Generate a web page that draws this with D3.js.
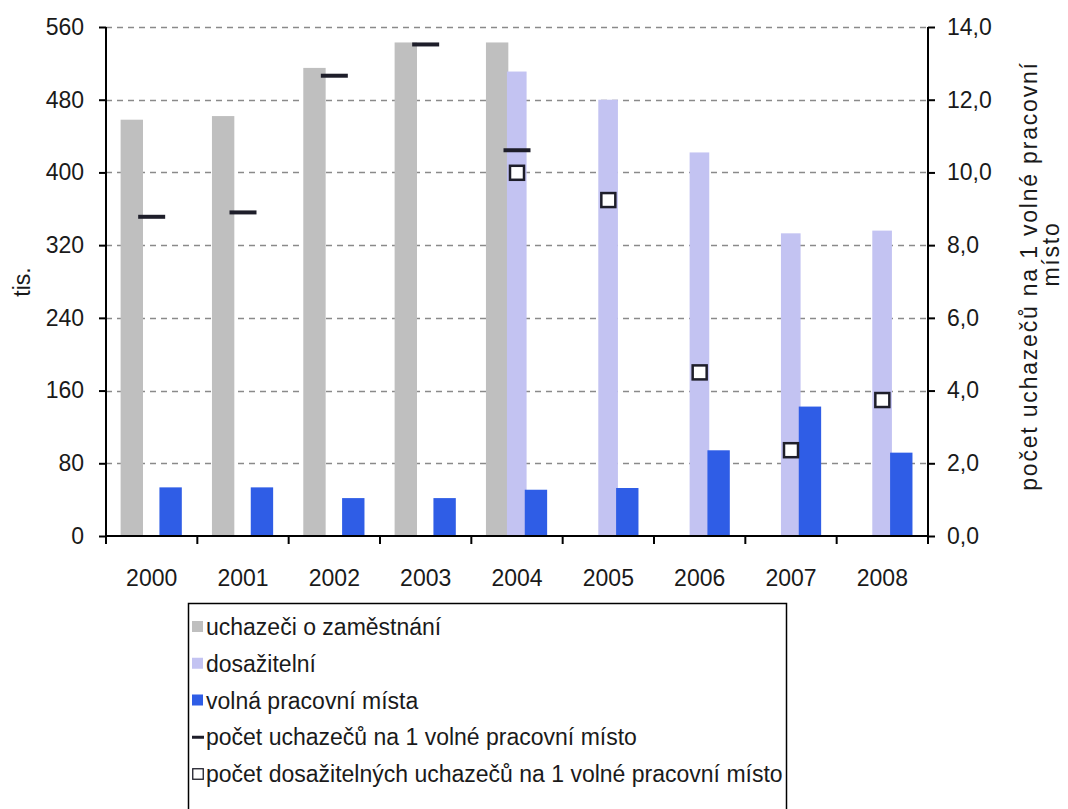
<!DOCTYPE html>
<html>
<head>
<meta charset="utf-8">
<script src="https://cdn.jsdelivr.net/npm/d3@7"></script>
<style>
  html, body { margin: 0; padding: 0; background: #ffffff; }
  svg { display: block; font-family: "Liberation Sans", Arial, sans-serif; }
</style>
</head>
<body>
<svg id="chart" width="1068" height="809"></svg>
<script>
// Years on the category axis
const years = ["2000", "2001", "2002", "2003", "2004", "2005", "2006", "2007", "2008"];

// Job seekers (thousands); dosažitelní only reported from 2004
const uchazeci = [458, 462, 515, 543, 543, null, null, null, null];
const dosazitelni = [null, null, null, null, 511, 480, 422, 333, 336];
// Vacancies (thousands)
const volnaMista = [53.5, 53.5, 41.7, 41.7, 50.9, 52.8, 94.3, 142.4, 91.7];

// Ratios on the right axis
const uchazeciNaMisto = [8.78, 8.9, 12.66, 13.52, 10.61, null, null, null, null];
const dosazitelniNaMisto = [null, null, null, null, 9.99, 9.24, 4.5, 2.36, 3.74];

// Axis ticks
const leftTicks = [0, 80, 160, 240, 320, 400, 480, 560];
const leftTickLabels = ["0", "80", "160", "240", "320", "400", "480", "560"];
const rightTicks = [0, 2, 4, 6, 8, 10, 12, 14];
const rightTickLabels = ["0,0", "2,0", "4,0", "6,0", "8,0", "10,0", "12,0", "14,0"];

// Legend entries
const legendLabels = [
  "uchazeči o zaměstnání",
  "dosažitelní",
  "volná pracovní místa",
  "počet uchazečů na 1 volné pracovní místo",
  "počet dosažitelných uchazečů na 1 volné pracovní místo"
];

const colors = {
  gray: "#bfbfbf",
  lavender: "#c3c3f2",
  blue: "#2f5de6",
  marker: "#1e1e2a",
  grid: "#8a8a8a",
  text: "#1a1a1a"
};

const svg = d3.select("#chart");
const plotLeft = 106, plotRight = 928, plotTop = 27, plotBottom = 536;

const x = d3.scaleBand().domain(years).range([plotLeft, plotRight]).padding(0);
const y = d3.scaleLinear().domain([0, 560]).range([plotBottom, plotTop]);
const y2 = d3.scaleLinear().domain([0, 14]).range([plotBottom, plotTop]);
const bw = x.bandwidth();

// dashed gridlines
svg.append("g")
  .selectAll("line")
  .data(leftTicks.filter(d => d > 0))
  .join("line")
  .attr("x1", plotLeft).attr("x2", plotRight)
  .attr("y1", d => Math.round(y(d)) + 0.5).attr("y2", d => Math.round(y(d)) + 0.5)
  .attr("stroke", colors.grid)
  .attr("stroke-width", 1.3)
  .attr("stroke-dasharray", "6,5");

// bars
const bars = svg.append("g");
bars.selectAll("rect.u")
  .data(years.map((yr, i) => ({ yr, v: uchazeci[i] })).filter(d => d.v != null))
  .join("rect")
  .attr("class", "u")
  .attr("x", d => x(d.yr) + bw * 0.16)
  .attr("width", bw * 0.245)
  .attr("y", d => y(d.v))
  .attr("height", d => y(0) - y(d.v))
  .attr("fill", colors.gray);

bars.selectAll("rect.d")
  .data(years.map((yr, i) => ({ yr, v: dosazitelni[i] })).filter(d => d.v != null))
  .join("rect")
  .attr("class", "d")
  .attr("x", d => x(d.yr) + bw * 0.39)
  .attr("width", bw * 0.215)
  .attr("y", d => y(d.v))
  .attr("height", d => y(0) - y(d.v))
  .attr("fill", colors.lavender);

bars.selectAll("rect.v")
  .data(years.map((yr, i) => ({ yr, v: volnaMista[i] })))
  .join("rect")
  .attr("class", "v")
  .attr("x", d => x(d.yr) + bw * 0.585)
  .attr("width", bw * 0.245)
  .attr("y", d => y(d.v))
  .attr("height", d => y(0) - y(d.v))
  .attr("fill", colors.blue);

// left axis
const axL = svg.append("g")
  .attr("transform", `translate(${plotLeft},0)`)
  .call(d3.axisLeft(y).tickValues(leftTicks).tickSize(7).tickPadding(15)
    .tickFormat((d, i) => leftTickLabels[i]));

// right axis
const axR = svg.append("g")
  .attr("transform", `translate(${plotRight},0)`)
  .call(d3.axisRight(y2).tickValues(rightTicks).tickSize(7).tickPadding(12)
    .tickFormat((d, i) => rightTickLabels[i]));

[axL, axR].forEach(ax => {
  ax.select(".domain").attr("stroke", "#000").attr("stroke-width", 2)
    .attr("d", `M0,${plotTop}V${plotBottom + 8}`);
  ax.selectAll(".tick line").attr("stroke", "#000").attr("stroke-width", 2);
  ax.selectAll(".tick text").attr("font-size", 23).attr("fill", colors.text)
    .attr("font-family", "Liberation Sans, Arial, sans-serif");
});

// category axis with ticks between the years
const axX = svg.append("g")
  .attr("transform", `translate(0,${plotBottom})`)
  .call(d3.axisBottom(x).tickSize(0).tickPadding(34));
axX.select(".domain").attr("stroke", "#000").attr("stroke-width", 2)
  .attr("d", `M${plotLeft},0H${plotRight}`);
axX.selectAll(".tick text").attr("font-size", 23).attr("fill", colors.text)
  .attr("font-family", "Liberation Sans, Arial, sans-serif");
axX.append("g")
  .selectAll("line")
  .data(years.map(yr => x(yr)).concat([plotRight]))
  .join("line")
  .attr("x1", d => d).attr("x2", d => d)
  .attr("y1", 0).attr("y2", 8)
  .attr("stroke", "#000").attr("stroke-width", 2);

// ratio markers: dashes for all job seekers
svg.append("g")
  .selectAll("rect")
  .data(years.map((yr, i) => ({ yr, v: uchazeciNaMisto[i] })).filter(d => d.v != null))
  .join("rect")
  .attr("x", d => x(d.yr) + bw / 2 - 13.5)
  .attr("y", d => y2(d.v) - 2)
  .attr("width", 27).attr("height", 4)
  .attr("fill", colors.marker);

// ratio markers: hollow squares for available job seekers
svg.append("g")
  .selectAll("rect")
  .data(years.map((yr, i) => ({ yr, v: dosazitelniNaMisto[i] })).filter(d => d.v != null))
  .join("rect")
  .attr("x", d => x(d.yr) + bw / 2 - 7)
  .attr("y", d => y2(d.v) - 7)
  .attr("width", 14).attr("height", 14)
  .attr("fill", "#fff")
  .attr("stroke", colors.marker)
  .attr("stroke-width", 2.5);

// axis titles
svg.append("text")
  .attr("transform", "translate(30,282) rotate(-90)")
  .attr("text-anchor", "middle")
  .attr("font-size", 23)
  .attr("fill", colors.text)
  .text("tis.");

const rt = svg.append("text")
  .attr("transform", "translate(1037,276) rotate(-90)")
  .attr("text-anchor", "middle")
  .attr("font-size", 23)
  .attr("letter-spacing", 1.8)
  .attr("fill", colors.text);
rt.append("tspan").attr("x", 0).attr("dy", 0).text("počet uchazečů na 1 volné pracovní");
rt.append("tspan").attr("x", 22).attr("dy", 22).text("místo");

// legend
const lg = svg.append("g");
lg.append("rect")
  .attr("x", 188.5).attr("y", 603.5)
  .attr("width", 598).attr("height", 230)
  .attr("fill", "#fff")
  .attr("stroke", "#000")
  .attr("stroke-width", 1.5);

const rowY = d3.scalePoint().domain(d3.range(legendLabels.length)).range([627, 774]);
const items = lg.selectAll("g.item")
  .data(legendLabels)
  .join("g")
  .attr("class", "item")
  .attr("transform", (d, i) => `translate(192,${rowY(i)})`);

items.each(function (d, i) {
  const g = d3.select(this);
  if (i < 3) {
    g.append("rect").attr("x", 0).attr("y", -6).attr("width", 11).attr("height", 11)
      .attr("fill", [colors.gray, colors.lavender, colors.blue][i]);
  } else if (i === 3) {
    g.append("rect").attr("x", 0).attr("y", -1.5).attr("width", 12).attr("height", 3)
      .attr("fill", colors.marker);
  } else {
    g.append("rect").attr("x", 0.75).attr("y", -5.25).attr("width", 10.5).attr("height", 10.5)
      .attr("fill", "#fff").attr("stroke", colors.marker).attr("stroke-width", 1.3);
  }
  g.append("text")
    .attr("x", 14).attr("y", 0).attr("dy", "0.35em")
    .attr("font-size", 23)
    .attr("fill", colors.text)
    .text(d);
});
</script>
</body>
</html>
